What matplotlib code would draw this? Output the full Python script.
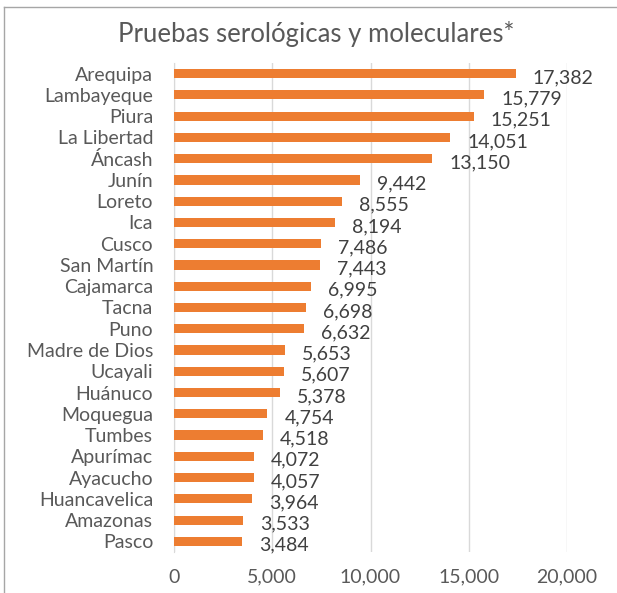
import matplotlib.pyplot as plt
from matplotlib.lines import Line2D

regions = ["Arequipa", "Lambayeque", "Piura", "La Libertad", "Áncash", "Junín",
           "Loreto", "Ica", "Cusco", "San Martín", "Cajamarca", "Tacna", "Puno",
           "Madre de Dios", "Ucayali", "Huánuco", "Moquegua", "Tumbes", "Apurímac",
           "Ayacucho", "Huancavelica", "Amazonas", "Pasco"]
pruebas = [17382, 15779, 15251, 14051, 13150, 9442, 8555, 8194, 7486, 7443,
           6995, 6698, 6632, 5653, 5607, 5378, 4754, 4518, 4072, 4057, 3964,
           3533, 3484]
x_ticks = [0, 5000, 10000, 15000, 20000]

plt.rcParams['font.family'] = ['Lato', 'DejaVu Sans']
txt = '#595959'
orange = '#ED7D31'

fig = plt.figure(figsize=(6.17, 5.93), dpi=100)
W, H = 617, 593
ax = fig.add_axes([174 / W, 1 - 552 / H, (567 - 174) / W, (552 - 63) / H])

y = list(range(len(regions)))
ax.barh(y, pruebas, height=0.43, color=orange, zorder=3)
for yi, v in zip(y, pruebas):
    ax.annotate(f"{v:,}", (v, yi), xytext=(17, -4), textcoords='offset pixels',
                ha='left', va='center', fontsize=14, color='#404040', zorder=4)

ax.set_ylim(len(regions) - 0.5, -0.5)
ax.set_xlim(0, 20000)
ax.set_xticks(x_ticks)
ax.set_xticklabels([f"{t:,}" for t in x_ticks])
ax.set_yticks(y)
ax.set_yticklabels(regions)
ax.tick_params(axis='both', length=0, labelsize=14, labelcolor=txt)
ax.tick_params(axis='x', pad=12)
ax.tick_params(axis='y', pad=15)
ax.grid(axis='x', color='#d9d9d9', linewidth=1, zorder=0)
for s in ['top', 'right', 'bottom']:
    ax.spines[s].set_visible(False)
ax.spines['left'].set_color('#d9d9d9')

fig.text(316 / W, 1 - 34 / H, "Pruebas serológicas y moleculares*", ha='center',
         va='center', fontsize=18.5, color=txt)

# chart frame
fig.add_artist(Line2D([4 / W, 4 / W], [0, 1 - 7 / H], transform=fig.transFigure,
                      color='#a6a6a6', lw=1))
fig.add_artist(Line2D([4 / W, 1], [1 - 7 / H, 1 - 7 / H], transform=fig.transFigure,
                      color='#a6a6a6', lw=1))

fig.savefig("out.png", dpi=100)
